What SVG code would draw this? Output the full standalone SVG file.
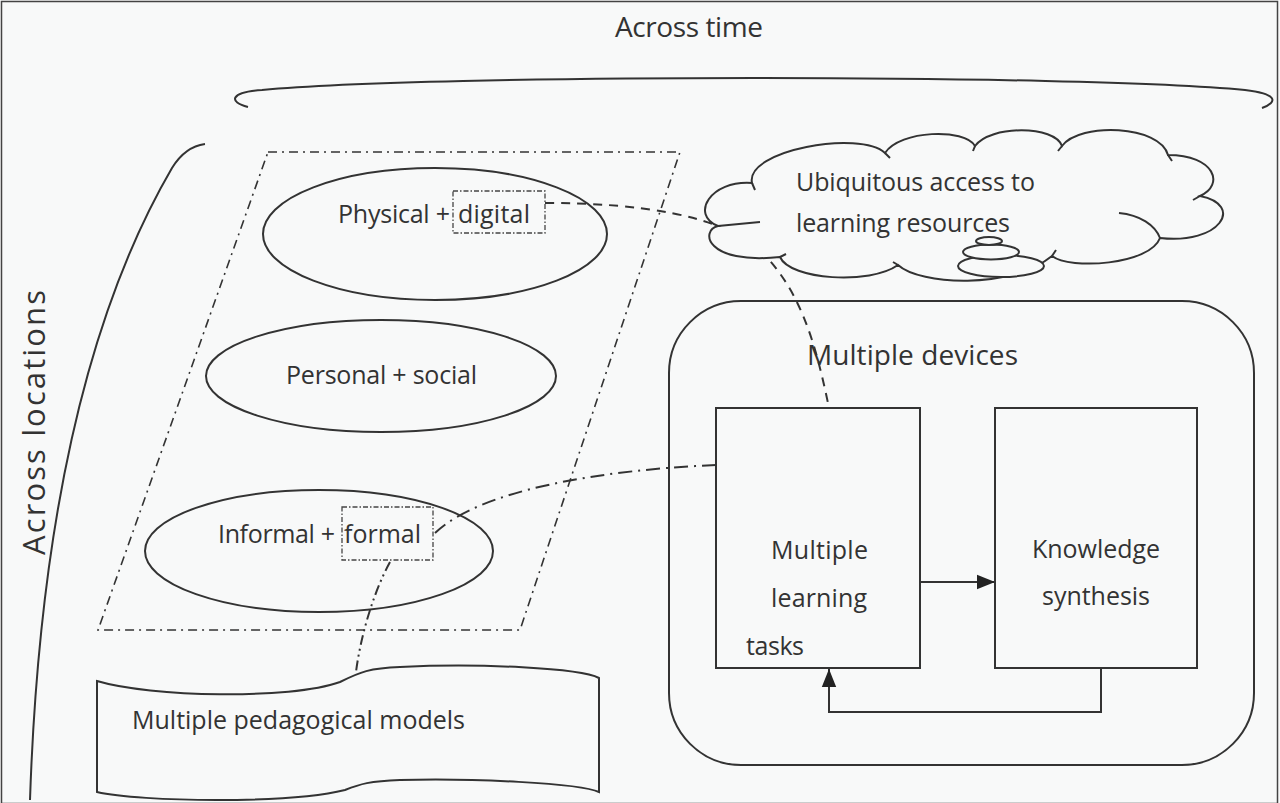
<svg xmlns="http://www.w3.org/2000/svg" width="1280" height="803" viewBox="0 0 1280 803">
<style>
text{font-family:"Open Sans","Liberation Sans",sans-serif;fill:#333;font-size:25px}
.h{font-size:28px}
.v{font-size:31px}
.s{fill:none;stroke:#333;stroke-width:2}
.bg{fill:#f8f9f9;stroke:#333;stroke-width:2}
.dash{fill:none;stroke:#333;stroke-width:2;stroke-dasharray:9 7}
.dd{fill:none;stroke:#333;stroke-width:2;stroke-dasharray:14 6 2 6}
.ddd{fill:none;stroke:#333;stroke-width:2;stroke-dasharray:10 4 2 4 2 4}
.para{fill:none;stroke:#333;stroke-width:1.6;stroke-dasharray:9 5 2 5}
.sm{fill:none;stroke:#444;stroke-width:1.3;stroke-dasharray:5 2 1.5 2}
</style>
<defs>
<marker id="ar2" viewBox="0 0 10 10" refX="10" refY="5" markerWidth="18" markerHeight="18" markerUnits="userSpaceOnUse" orient="auto">
<path d="M0,1 L10,5 L0,9 z" fill="#222"/>
</marker>
</defs>
<rect x="0" y="0" width="1280" height="803" fill="#f8f9f9"/>
<rect x="1.5" y="1.5" width="1276" height="802" fill="none" stroke="#444" stroke-width="1.5"/>

<g id="across-time">
<text class="h" x="615" y="37" textLength="148">Across time</text>
<path class="s" d="M 248 107 C 228 102, 230 92, 262 90 C 430 74, 1080 74, 1245 90 C 1278 94, 1278 102, 1262 108"/>
</g>

<g id="across-locations">
<text class="v" transform="translate(45,555) rotate(-90)" textLength="265">Across locations</text>
<path class="s" d="M 205 144 C 190 146, 180 155, 172 168 C 95 300, 40 500, 30 800"/>
</g>

<g id="contexts">
<polygon class="para" points="268,152 680,152 520,630 98,630"/>
</g>

<g id="connectors">
<path class="dash" d="M 545 203 C 640 203, 720 215, 760 250 C 800 290, 815 340, 829 408"/>
<path class="dd" d="M 716 465 C 600 470, 480 490, 435 533"/>
<path class="ddd" d="M 390 562 C 372 595, 360 640, 356 672"/>
<path class="s" d="M 920 582 L 995 582" marker-end="url(#ar2)"/>
<path class="s" d="M 1101 668 L 1101 712 L 829 712 L 829 669" marker-end="url(#ar2)"/>
</g>

<g id="physical-digital">
<ellipse class="s" cx="435" cy="234" rx="172" ry="66"/>
<text x="338" y="223" textLength="112">Physical +</text>
<text x="458" y="223" textLength="72">digital</text>
<rect class="sm" x="453" y="191" width="92" height="42"/>
</g>

<g id="personal-social">
<ellipse class="s" cx="381" cy="376" rx="175" ry="56"/>
<text x="286" y="384" textLength="191">Personal + social</text>
</g>

<g id="informal-formal">
<ellipse class="s" cx="319" cy="551" rx="174" ry="61"/>
<text x="218" y="543" textLength="117">Informal +</text>
<text x="344" y="543" textLength="77">formal</text>
<rect class="sm" x="342" y="507" width="91" height="53"/>
</g>

<g id="ubiquitous-access">
<path class="bg" d="M 752 183 C 745 150, 860 130, 885 153 C 900 130, 965 128, 975 146 C 990 125, 1055 125, 1062 146 C 1080 122, 1160 125, 1168 155 C 1215 155, 1225 185, 1200 196 C 1245 205, 1220 245, 1160 238 C 1150 265, 1070 270, 1052 256 C 1010 290, 920 285, 898 265 C 870 285, 790 280, 780 257 C 705 265, 700 230, 718 226 C 690 215, 710 180, 752 183 Z"/>
<path class="s" stroke-width="1.6" d="M 718 226 L 760 222 M 752 183 L 755 190 M 885 153 L 890 158 M 975 146 L 973 151 M 1062 146 L 1058 151 M 1168 155 L 1172 161 M 1200 196 L 1193 200 M 1119 213 C 1140 215, 1155 225, 1160 238 M 1052 256 L 1056 250 M 898 265 L 893 262 M 780 257 L 786 254"/>
<ellipse class="bg" cx="1001" cy="266" rx="43" ry="11" stroke-width="1.6"/>
<ellipse class="bg" cx="991" cy="252" rx="28" ry="7.5" stroke-width="1.6"/>
<ellipse class="bg" cx="989" cy="241" rx="13" ry="4" stroke-width="1.6"/>
<text x="796" y="191" textLength="239">Ubiquitous access to</text>
<text x="796" y="232" textLength="214">learning resources</text>
</g>

<g id="multiple-devices">
<rect class="s" x="669" y="301" width="585" height="464" rx="72" ry="72" stroke-width="1.6"/>
<text class="h" x="807" y="365" textLength="211">Multiple devices</text>
</g>

<g id="learning-tasks">
<rect class="s" x="716" y="408" width="204" height="260" stroke-width="1.8"/>
<text x="771" y="559" textLength="97">Multiple</text>
<text x="771" y="607" textLength="96">learning</text>
<text x="746" y="655" textLength="58">tasks</text>
</g>

<g id="knowledge-synthesis">
<rect class="s" x="995" y="408" width="202" height="260" stroke-width="1.8"/>
<text x="1032" y="558" textLength="128">Knowledge</text>
<text x="1042" y="605" textLength="108">synthesis</text>
</g>

<g id="pedagogical-models">
<path class="bg" d="M 97 681 C 150 697, 290 700, 340 682 C 360 672, 370 668, 400 667 C 480 663, 580 668, 599 678 L 599 792 C 580 783, 470 778, 400 780 C 370 781, 360 784, 345 790 C 290 804, 140 802, 97 792 Z"/>
<text x="132" y="729" textLength="333">Multiple pedagogical models</text>
</g>
</svg>
